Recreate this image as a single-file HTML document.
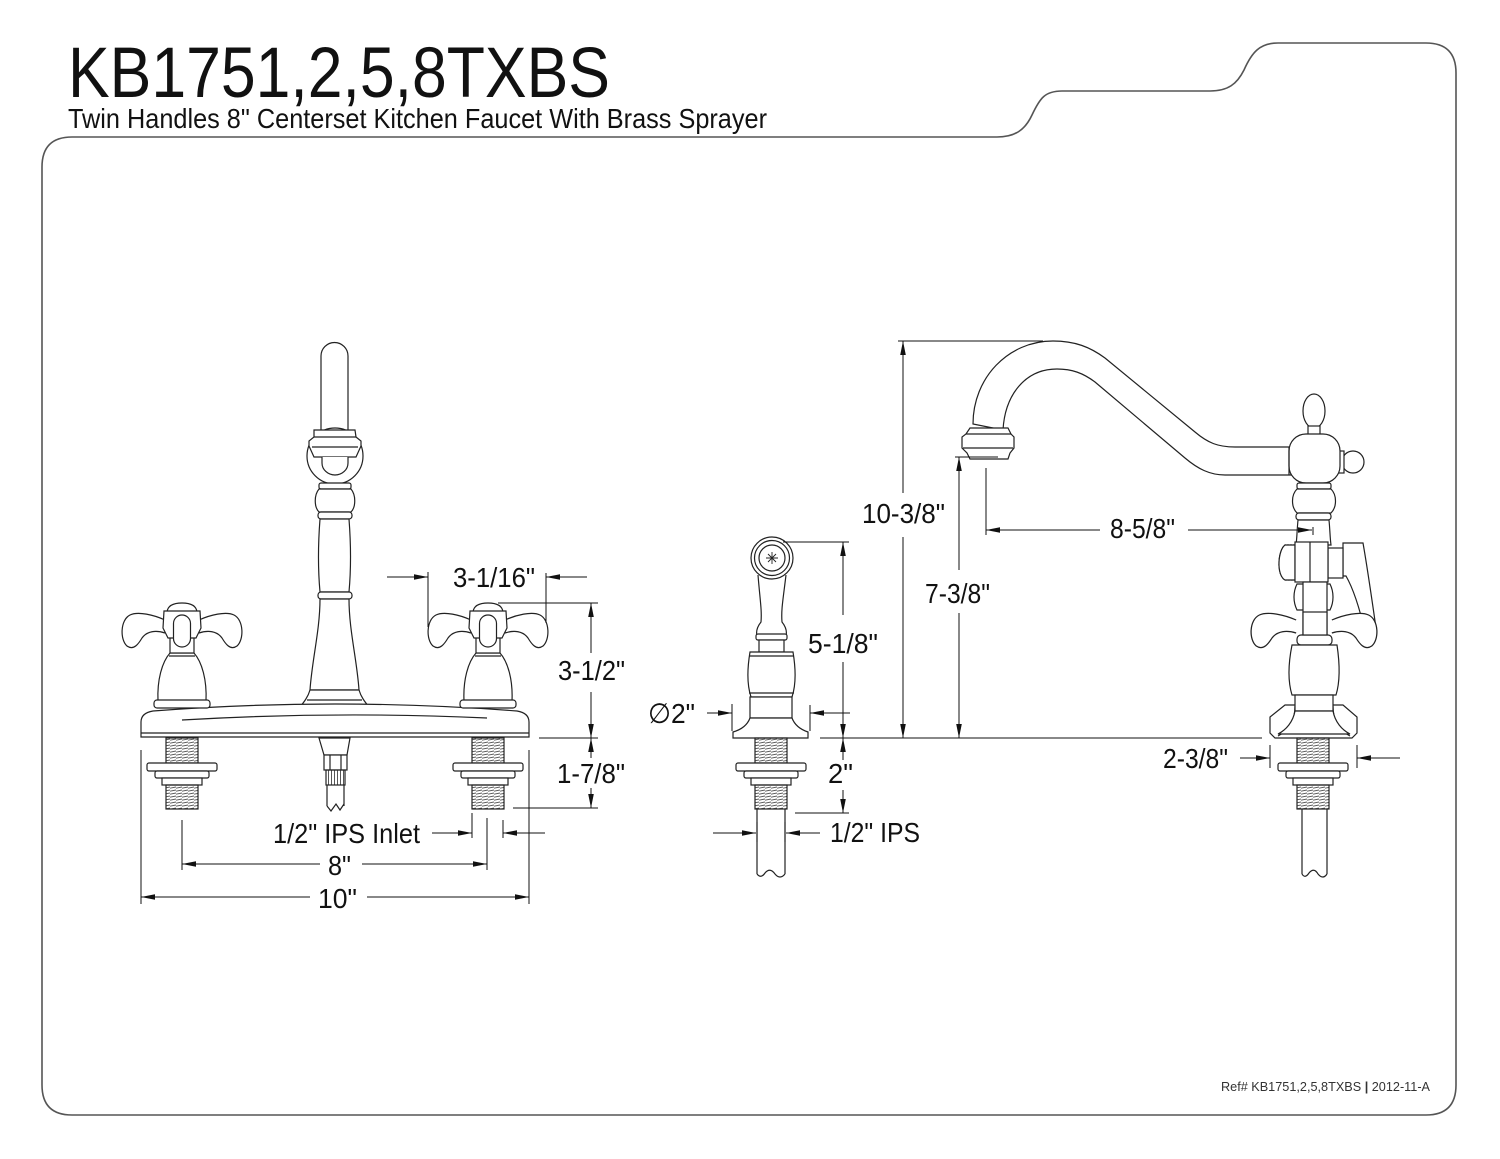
<!DOCTYPE html>
<html><head><meta charset="utf-8"><style>
html,body{margin:0;padding:0;background:#fff;}
svg{display:block;}
text{font-family:"Liberation Sans",Arial,sans-serif;fill:#111;}
</style></head><body>
<svg width="1500" height="1159" viewBox="0 0 1500 1159" xmlns="http://www.w3.org/2000/svg">
<defs>
<marker id="a" viewBox="0 0 14 8" refX="14" refY="4" markerWidth="14" markerHeight="8" markerUnits="userSpaceOnUse" orient="auto-start-reverse"><path d="M0,1.2 L14,4 L0,6.8 Z" fill="#111"/></marker>
<pattern id="thr" width="6" height="3" patternUnits="userSpaceOnUse"><line x1="0" y1="2.2" x2="6" y2="1" stroke="#555" stroke-width="0.9"/></pattern>
<pattern id="knurl" width="3" height="6" patternUnits="userSpaceOnUse"><line x1="1.5" y1="0" x2="1.5" y2="6" stroke="#444" stroke-width="0.9"/></pattern>
<g id="shank" fill="#fff" stroke="#222" stroke-width="1.2">
<rect x="-16" y="738" width="32" height="25" fill="url(#thr)"/>
<rect x="-35" y="763" width="70" height="8" rx="2"/>
<rect x="-27" y="771" width="54" height="7" rx="2"/>
<rect x="-20" y="778" width="40" height="7"/>
<rect x="-16" y="785" width="32" height="24" fill="url(#thr)"/>
</g>
<g id="armL" fill="#fff" stroke="#222" stroke-width="1.2">
<path d="M-17,620 C-28,615 -44,611 -52,615 C-62,620 -62,640 -55,646 C-48,651 -43,643 -40,638 C-35,631 -26,630 -17,633"/>
</g>
</defs>

<!-- Frame -->
<path d="M42,167 Q42,137 72,137 H997 C1015,137 1025,130 1032,115 C1040,98 1045,91 1062,91 H1210 C1228,91 1237,84 1244,70 C1252,52 1260,43 1278,43 H1426 Q1456,43 1456,73 V1085 Q1456,1115 1426,1115 H72 Q42,1115 42,1085 Z" fill="none" stroke="#555" stroke-width="1.6"/>

<!-- Titles -->
<text x="68" y="97" font-size="71" textLength="542" lengthAdjust="spacingAndGlyphs">KB1751,2,5,8TXBS</text>
<text x="68" y="128" font-size="28" textLength="699" lengthAdjust="spacingAndGlyphs">Twin Handles 8" Centerset Kitchen Faucet With Brass Sprayer</text>
<text x="1221" y="1091" font-size="13" textLength="209" lengthAdjust="spacingAndGlyphs" style="fill:#333">Ref# KB1751,2,5,8TXBS <tspan font-weight="bold">|</tspan> 2012-11-A</text>

<!-- ================= FRONT VIEW ================= -->
<g fill="#fff" stroke="#222" stroke-width="1.2">
<!-- spout tube -->
<path d="M321,432 V356 A13.5,13.5 0 0 1 348,356 V432"/>
<circle cx="335" cy="456" r="28"/>
<path d="M314,430 H355 L356,437 L361,441 L361,446 L356,457 H314 L309,446 L309,441 L314,437 Z"/>
<line x1="314" y1="437" x2="356" y2="437"/>
<line x1="312" y1="447" x2="358" y2="447"/>
<path d="M322,457 V463 A13,12 0 0 0 348,463 V457"/>
<!-- stem -->
<rect x="319" y="483" width="32" height="6" rx="2"/>
<path d="M319,489 C314,495 314,507 319,512 H351 C356,507 356,495 351,489 Z"/>
<rect x="318" y="512" width="34" height="7" rx="3"/>
<path d="M320,519 C318,545 318,570 320,592 H349 C351,570 351,545 349,519 Z"/>
<rect x="318" y="592" width="34" height="7" rx="3"/>
<path d="M320,599 C320,630 312,660 310,690 H359 C357,660 349,630 349,599 Z"/>
<path d="M310,690 H359 C361,697 365,702 369,707 H300 C304,702 308,697 310,690 Z"/>
<line x1="307" y1="700" x2="362" y2="700"/>
<!-- deck plate -->
<path d="M141,737 L141,722 Q141,713 153,711 Q335,697 517,711 Q529,713 529,722 L529,737 Z"/>
<line x1="141" y1="733" x2="529" y2="733"/>
<path d="M182,720 Q335,711 487,718" fill="none"/>
</g>

<!-- handles front -->
<g fill="#fff" stroke="#222" stroke-width="1.2">
<g transform="translate(182,0)">
<path d="M-12,653 C-20,662 -25,680 -24,701 H24 C25,680 20,662 12,653 Z"/>
<line x1="-13" y1="656" x2="13" y2="656"/>
<rect x="-28" y="700" width="56" height="8" rx="3"/>
<rect x="-12" y="637" width="24" height="16"/>
<use href="#armL"/>
<use href="#armL" transform="scale(-1,1)"/>
<path d="M-15,612 Q-14,603 0,603 Q14,603 15,612"/>
<path d="M-18,611 H18 L19,628 L14,638 H-14 L-19,628 Z"/>
<rect x="-8.5" y="615" width="17" height="32" rx="8.5"/>
</g>
<g transform="translate(488,0)">
<path d="M-12,653 C-20,662 -25,680 -24,701 H24 C25,680 20,662 12,653 Z"/>
<line x1="-13" y1="656" x2="13" y2="656"/>
<rect x="-28" y="700" width="56" height="8" rx="3"/>
<rect x="-12" y="637" width="24" height="16"/>
<use href="#armL"/>
<use href="#armL" transform="scale(-1,1)"/>
<path d="M-15,612 Q-14,603 0,603 Q14,603 15,612"/>
<path d="M-18,611 H18 L19,628 L14,638 H-14 L-19,628 Z"/>
<rect x="-8.5" y="615" width="17" height="32" rx="8.5"/>
</g>
</g>

<!-- shanks front -->
<use href="#shank" transform="translate(182,0)"/>
<use href="#shank" transform="translate(488,0)"/>

<!-- center hose connector -->
<g fill="#fff" stroke="#222" stroke-width="1.2">
<path d="M319,738 H350 L347,755 H324 Z"/>
<rect x="324" y="755" width="23" height="15"/>
<line x1="330" y1="755" x2="330" y2="770"/><line x1="341" y1="755" x2="341" y2="770"/>
<rect x="326" y="770" width="19" height="15" fill="url(#knurl)"/>
<path d="M327,785 V806 M344,785 V806" fill="none"/>
<path d="M327,806 L331,811 L336,804 L340,810 L344,804" fill="none"/>
</g>

<!-- front dimensions -->
<g stroke="#111" stroke-width="1" fill="none">
<!-- 10" -->
<line x1="141" y1="750" x2="141" y2="904"/>
<line x1="529" y1="750" x2="529" y2="904"/>
<line x1="310" y1="897" x2="141" y2="897" marker-end="url(#a)"/>
<line x1="367" y1="897" x2="529" y2="897" marker-end="url(#a)"/>
<!-- 8" -->
<line x1="182" y1="820" x2="182" y2="870"/>
<line x1="487" y1="818" x2="487" y2="870"/>
<line x1="320" y1="864" x2="182" y2="864" marker-end="url(#a)"/>
<line x1="362" y1="864" x2="487" y2="864" marker-end="url(#a)"/>
<!-- 1/2" IPS inlet -->
<line x1="472" y1="813" x2="472" y2="838"/>
<line x1="503" y1="820" x2="503" y2="838"/>
<line x1="432" y1="833" x2="472" y2="833" marker-end="url(#a)"/>
<line x1="545" y1="833" x2="503" y2="833" marker-end="url(#a)"/>
<!-- 3-1/16" -->
<line x1="428" y1="572" x2="428" y2="627"/>
<line x1="546" y1="573" x2="546" y2="623"/>
<line x1="387" y1="577" x2="428" y2="577" marker-end="url(#a)"/>
<line x1="587" y1="577" x2="546" y2="577" marker-end="url(#a)"/>
<!-- 3-1/2" and 1-7/8" -->
<line x1="498" y1="603" x2="598" y2="603"/>
<line x1="539" y1="738" x2="598" y2="738"/>
<line x1="513" y1="808" x2="598" y2="808"/>
<line x1="591" y1="653" x2="591" y2="603" marker-end="url(#a)"/>
<line x1="591" y1="692" x2="591" y2="738" marker-end="url(#a)"/>
<line x1="591" y1="758" x2="591" y2="738" marker-end="url(#a)"/>
<line x1="591" y1="788" x2="591" y2="808" marker-end="url(#a)"/>
</g>
<g font-size="28">
<text x="453" y="587" textLength="82" lengthAdjust="spacingAndGlyphs">3-1/16"</text>
<text x="558" y="680" textLength="67" lengthAdjust="spacingAndGlyphs">3-1/2"</text>
<text x="557" y="783" textLength="68" lengthAdjust="spacingAndGlyphs">1-7/8"</text>
<text x="273" y="843" textLength="147" lengthAdjust="spacingAndGlyphs">1/2" IPS Inlet</text>
<text x="328" y="875" textLength="23" lengthAdjust="spacingAndGlyphs">8"</text>
<text x="318" y="908" textLength="39" lengthAdjust="spacingAndGlyphs">10"</text>
</g>

<!-- ================= SPRAYER ================= -->
<g fill="#fff" stroke="#222" stroke-width="1.2">
<path d="M758,575 C760,600 762,610 761,622 C757,627 756,632 757,636 H786 C787,632 786,627 782,622 C781,610 783,600 786,575"/>
<circle cx="772" cy="558" r="21"/>
<circle cx="772" cy="558" r="17.5"/>
<circle cx="772" cy="558" r="13"/>
<path d="M772,552 V564 M766,558 H778 M768,554 L776,562 M776,554 L768,562" stroke-width="0.9"/>
<rect x="756" y="634" width="31" height="6" rx="2"/>
<rect x="759" y="640" width="25" height="12"/>
<path d="M750,652 H793 C796,670 796,685 792,697 H751 C747,685 747,670 750,652 Z"/>
<line x1="749" y1="656" x2="794" y2="656"/>
<line x1="749" y1="693" x2="794" y2="693"/>
<rect x="750" y="697" width="42" height="21"/>
<path d="M750,718 H792 C795,726 802,730 808,732 L808,738 H733 L733,732 C740,730 747,726 750,718 Z"/>
</g>
<use href="#shank" transform="translate(771,0)"/>
<g fill="none" stroke="#222" stroke-width="1.2">
<path d="M757,809 V874 M785,809 V874"/>
<path d="M757,874 Q761,879 765,873 Q770,867 775,874 Q780,880 785,874"/>
</g>
<!-- sprayer dims -->
<g stroke="#111" stroke-width="1" fill="none">
<line x1="783" y1="542" x2="849" y2="542"/>
<line x1="843" y1="615" x2="843" y2="542" marker-end="url(#a)"/>
<line x1="843" y1="662" x2="843" y2="738" marker-end="url(#a)"/>
<line x1="843" y1="760" x2="843" y2="738" marker-end="url(#a)"/>
<line x1="843" y1="790" x2="843" y2="813" marker-end="url(#a)"/>
<line x1="795" y1="813" x2="849" y2="813"/>
<line x1="820" y1="738" x2="1262" y2="738"/>
<!-- dia 2 -->
<line x1="732" y1="704" x2="732" y2="731"/>
<line x1="810" y1="705" x2="810" y2="731"/>
<line x1="707" y1="713" x2="732" y2="713" marker-end="url(#a)"/>
<line x1="850" y1="713" x2="810" y2="713" marker-end="url(#a)"/>
<!-- 1/2 IPS -->
<line x1="757" y1="822" x2="757" y2="842"/>
<line x1="785" y1="822" x2="785" y2="842"/>
<line x1="713" y1="833" x2="756" y2="833" marker-end="url(#a)"/>
<line x1="820" y1="833" x2="786" y2="833" marker-end="url(#a)"/>
</g>
<g font-size="28">
<text x="808" y="653" textLength="70" lengthAdjust="spacingAndGlyphs">5-1/8"</text>
<text x="828" y="783" textLength="25" lengthAdjust="spacingAndGlyphs">2"</text>
<text x="648" y="723" textLength="47" lengthAdjust="spacingAndGlyphs">∅2"</text>
<text x="830" y="842" textLength="90" lengthAdjust="spacingAndGlyphs">1/2" IPS</text>
</g>

<!-- ================= SIDE VIEW ================= -->
<g fill="#fff" stroke="#222" stroke-width="1.2">
<!-- spout -->
<path d="M973,424 C973,378 1008,341 1053,341 C1075,341 1090,347 1105,358 L1195,432 C1208,443 1218,447 1235,447 H1291 V475 H1225 C1210,475 1198,469 1185,458 L1095,382 C1083,373 1072,369 1057,369 C1025,369 1005,395 1003,430 Z"/>
<!-- aerator -->
<path d="M970,428 H1008 L1011,434 L1014,437 L1014,448 L1010,453 L1008,459 H970 L967,453 L962,448 L962,437 L966,434 Z"/>
<line x1="966" y1="434" x2="1011" y2="434"/>
<line x1="963" y1="448" x2="1013" y2="448"/>
<!-- finial -->
<ellipse cx="1314" cy="411" rx="11" ry="17"/>
<rect x="1308" y="426" width="12" height="10"/>
<!-- right knob -->
<circle cx="1353" cy="462" r="11"/>
<rect x="1338" y="451" width="6" height="22"/>
<!-- ball -->
<rect x="1289" y="434" width="51" height="49" rx="17"/>
<line x1="1289" y1="447" x2="1289" y2="475"/>
<!-- stem below ball -->
<rect x="1297" y="483" width="34" height="6" rx="2"/>
<path d="M1297,489 C1291,495 1291,507 1297,513 H1331 C1337,507 1337,495 1331,489 Z"/>
<rect x="1296" y="513" width="35" height="7" rx="3"/>
<path d="M1298,520 C1297,530 1297,538 1296,545 H1331 C1330,538 1330,530 1329,520 Z"/>
<!-- lever -->
<path d="M1343,543 H1363 C1366,560 1372,600 1376,628 L1373,632 L1365,632 C1360,610 1354,590 1346,576 H1343 Z"/>
<!-- diverter block -->
<rect x="1328" y="548" width="15" height="30"/>
<path d="M1295,545 H1285 C1278,550 1276,575 1285,580 H1295 Z" stroke-dasharray="2,1"/>
<path d="M1295,545 H1285 C1278,550 1276,575 1285,580 H1295 Z"/>
<rect x="1295" y="542" width="33" height="40"/>
<line x1="1310" y1="542" x2="1310" y2="582"/>
<!-- stem below block -->
<path d="M1297,584 C1293,592 1293,602 1297,610 H1330 C1334,602 1334,592 1330,584 Z"/>
<rect x="1303" y="582" width="24" height="54"/>
</g>
<g fill="#fff" stroke="#222" stroke-width="1.2">
<g transform="translate(1314,0) scale(1.05,1)">
<use href="#armL"/>
<use href="#armL" transform="scale(-1,1)"/>
</g>
<rect x="1297" y="635" width="35" height="10" rx="4"/>
<rect x="1303" y="612" width="24" height="23"/>
<path d="M1292,645 H1337 C1340,665 1340,682 1336,695 H1292 C1288,682 1288,665 1292,645 Z"/>
<!-- escutcheon -->
<path d="M1285,705 H1343 L1357,717 V733 L1352,738 H1275 L1270,733 V717 Z"/>
<path d="M1295,706 C1295,720 1290,730 1278,736 M1333,706 C1333,720 1338,730 1350,736" fill="none"/>
<rect x="1295" y="695" width="38" height="16"/>
<path d="M1295,711 H1333 C1335,722 1342,730 1350,734 H1278 C1286,730 1293,722 1295,711 Z"/>
</g>
<use href="#shank" transform="translate(1313,0)"/>
<g fill="none" stroke="#222" stroke-width="1.2">
<path d="M1302,809 V874 M1327,809 V874"/>
<path d="M1302,874 Q1305,879 1309,873 Q1314,867 1318,874 Q1323,880 1327,874"/>
</g>
<!-- side dims -->
<g stroke="#111" stroke-width="1" fill="none">
<line x1="898" y1="341" x2="1043" y2="341"/>
<line x1="903" y1="493" x2="903" y2="341" marker-end="url(#a)"/>
<line x1="903" y1="537" x2="903" y2="738" marker-end="url(#a)"/>
<line x1="955" y1="457" x2="998" y2="457"/>
<line x1="959" y1="570" x2="959" y2="457" marker-end="url(#a)"/>
<line x1="959" y1="613" x2="959" y2="738" marker-end="url(#a)"/>
<line x1="986" y1="468" x2="986" y2="535"/>
<line x1="1100" y1="530" x2="986" y2="530" marker-end="url(#a)"/>
<line x1="1188" y1="530" x2="1312" y2="530" marker-end="url(#a)"/>
<line x1="1313" y1="527" x2="1313" y2="535"/>
<line x1="1270" y1="745" x2="1270" y2="768"/>
<line x1="1357" y1="745" x2="1357" y2="768"/>
<line x1="1240" y1="758" x2="1270" y2="758" marker-end="url(#a)"/>
<line x1="1400" y1="758" x2="1357" y2="758" marker-end="url(#a)"/>
</g>
<g font-size="28">
<text x="862" y="523" textLength="83" lengthAdjust="spacingAndGlyphs">10-3/8"</text>
<text x="925" y="603" textLength="65" lengthAdjust="spacingAndGlyphs">7-3/8"</text>
<text x="1110" y="538" textLength="65" lengthAdjust="spacingAndGlyphs">8-5/8"</text>
<text x="1163" y="768" textLength="65" lengthAdjust="spacingAndGlyphs">2-3/8"</text>
</g>
</svg>
</body></html>
